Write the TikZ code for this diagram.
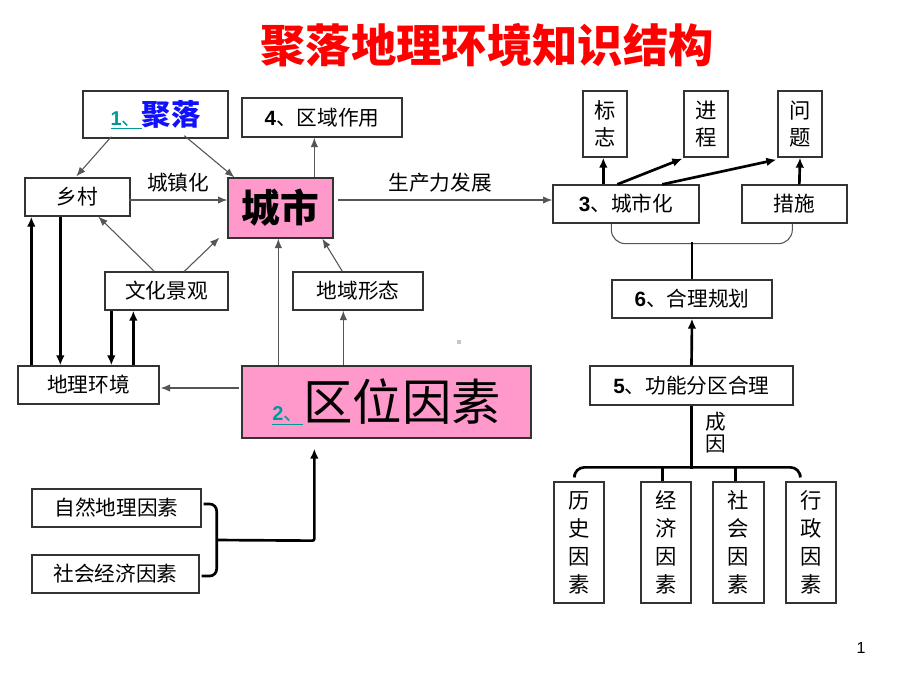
\documentclass[tikz,border=0pt]{standalone}
\usepackage{fontspec}
\setmainfont{Noto Sans CJK SC}
\newfontfamily\lat{Liberation Sans}
\usetikzlibrary{arrows.meta,calc}
\newdimen\pxu \pxu=0.75pt
\definecolor{boxgray}{HTML}{333333}
\definecolor{linegray}{HTML}{555555}
\definecolor{pinkf}{HTML}{FF99CC}
\definecolor{tealc}{HTML}{009999}
\definecolor{bluec}{HTML}{1010FF}
\definecolor{titlered}{HTML}{FF0000}
\tikzset{
  box/.style={draw=boxgray, line width=1pt, rectangle, inner sep=0pt, font=\fontsize{15.5}{18}\selectfont},
  vbox/.style={box, align=center, font=\fontsize{16}{21}\selectfont},
  thinarr/.style={draw=linegray, line width=0.8pt, -{Latex[length=7pt,width=5.5pt]}},
  thickarr/.style={draw=black, line width=2pt, -{Latex[length=7.5pt,width=6.5pt]}},
  thickline/.style={draw=black, line width=2pt},
  lbl/.style={inner sep=0pt, font=\fontsize{15.5}{18}\selectfont}
}
\begin{document}
\begin{tikzpicture}[x=0.75pt,y=-0.75pt]
\useasboundingbox (0,0) rectangle (920,690);
\fill[white] (0,0) rectangle (920,690);

% title
\node[inner sep=0pt, text=titlered, font=\fontsize{34}{36}\selectfont\bfseries] (title) at (487,45) {聚落地理环境知识结构};

% left part
\node[box, minimum width=145\pxu, minimum height=47\pxu] (p1) at (155.5,114.5)
  {{\color{tealc}\fontsize{15}{18}\selectfont\underline{{\lat\bfseries 1}、}}{\color{bluec}\fontsize{22}{24}\selectfont\bfseries 聚落}};
\node[box, minimum width=160\pxu, minimum height=39\pxu] (p4) at (322,117.5) {{\lat\bfseries 4}、区域作用};
\node[box, minimum width=105\pxu, minimum height=38\pxu] (village) at (77.5,197) {乡村};
\node[box, fill=pinkf, minimum width=105\pxu, minimum height=60\pxu, font=\fontsize{29}{30}\selectfont\bfseries] (city) at (280.5,208) {城市};
\node[box, minimum width=123\pxu, minimum height=38\pxu] (culture) at (166.5,291) {文化景观};
\node[box, minimum width=130\pxu, minimum height=38\pxu] (form) at (358,291) {地域形态};
\node[box, minimum width=141\pxu, minimum height=38\pxu] (env) at (88.5,385) {地理环境};
\node[box, fill=pinkf, minimum width=289\pxu, minimum height=72\pxu] (loc) at (386.5,402)
  {{\color{tealc}\fontsize{15}{18}\selectfont\underline{{\lat\bfseries 2}、}}{\fontsize{37}{40}\selectfont 区位因素}};
\node[box, minimum width=169\pxu, minimum height=38\pxu] (nat) at (116.5,508) {自然地理因素};
\node[box, minimum width=167\pxu, minimum height=38\pxu] (soc) at (115.5,574) {社会经济因素};

\node[lbl] (lz) at (178,183) {城镇化};
\node[lbl] (lp) at (440,183) {生产力发展};

% right part
\node[vbox, minimum width=44\pxu, minimum height=66\pxu, font=\fontsize{16}{20.25}\selectfont] (sign) at (605,124) {标\\志};
\node[vbox, minimum width=44\pxu, minimum height=66\pxu, font=\fontsize{16}{20.25}\selectfont] (proc) at (706,124) {进\\程};
\node[vbox, minimum width=44\pxu, minimum height=66\pxu, font=\fontsize{16}{20.25}\selectfont] (prob) at (800,124) {问\\题};
\node[box, minimum width=146\pxu, minimum height=38\pxu] (urb) at (626,204) {{\lat\bfseries 3}、城市化};
\node[box, minimum width=105\pxu, minimum height=38\pxu] (meas) at (794.5,204) {措施};
\node[box, minimum width=160\pxu, minimum height=38\pxu] (plan) at (692,299) {{\lat\bfseries 6}、合理规划};
\node[box, minimum width=203\pxu, minimum height=39\pxu] (func) at (691.5,385.5) {{\lat\bfseries 5}、功能分区合理};
\node[lbl, align=center, font=\fontsize{15.5}{16.5}\selectfont] (cause) at (716,433) {成\\因};
\node[vbox, minimum width=50\pxu, minimum height=121\pxu] (hist) at (579,542.5) {历\\史\\因\\素};
\node[vbox, minimum width=50\pxu, minimum height=121\pxu] (econ) at (666,542.5) {经\\济\\因\\素};
\node[vbox, minimum width=51\pxu, minimum height=121\pxu] (soc2) at (738.5,542.5) {社\\会\\因\\素};
\node[vbox, minimum width=50\pxu, minimum height=121\pxu] (admin) at (811,542.5) {行\\政\\因\\素};

\node[inner sep=0pt, font=\lat\fontsize{12}{14}\selectfont] (pg) at (861,648) {1};
\fill[gray!45] (457,340) rectangle (461,344);

% thin connectors, left
\draw[thinarr] ($(p1.south west)+(29,-2)$) -- ($(village.north west)+(52,-1)$);
\draw[thinarr] ($(p1.south west)+(102,-3)$) -- ($(city.north west)+(7,0)$);
\draw[thinarr] ($(city.north west)+(87,0)$) -- ($(p4.south west)+(73,0)$);
\draw[thinarr] ($(village.east)+(-2,3)$) -- ($(city.west)+(0,-8)$);
\draw[thinarr] ($(city.east)+(4,-8)$) -- ($(urb.west)+(0,-4)$);
\draw[thinarr] ($(culture.north west)+(50,0)$) -- ($(village.south west)+(74,0)$);
\draw[thinarr] ($(culture.north west)+(80,0)$) -- ($(city.south west)+(-8,-1)$);
\draw[thinarr] ($(form.north west)+(50,0)$) -- ($(city.south west)+(95,0)$);
\draw[thinarr] ($(loc.north west)+(37,0)$) -- ($(city.south west)+(51,0)$);
\draw[thinarr] ($(loc.north west)+(102,0)$) -- ($(form.south west)+(51,0)$);
\draw[thinarr] ($(loc.west)+(-2,-14)$) -- ($(env.east)+(1,3)$);

% thick connectors, left
\draw[thickarr] ($(env.north west)+(14,0)$) -- ($(village.south west)+(7,0)$);
\draw[thickarr] ($(village.south west)+(36,0)$) -- ($(env.north west)+(43,0)$);
\draw[thickarr] ($(culture.south west)+(7,0)$) -- ($(env.north west)+(94,0)$);
\draw[thickarr] ($(env.north west)+(116,0)$) -- ($(culture.south west)+(29,0)$);

% left brace
\coordinate (ba) at ($(nat.east)+(2,-4)$);
\coordinate (bb) at ($(soc.east)+(2,2)$);
\coordinate (bm) at ($(nat.east)+(15,32)$);
\draw[thickline, rounded corners=7\pxu] (ba) -- ($(ba)+(13,0)$) -- ($(bb)+(15,0)$) -- (bb);
\draw[thickarr, rounded corners=2\pxu] (bm) -- ($(loc.south west)+(73,102)$) -- ($(loc.south west)+(73,10)$);

% thick connectors, right top
\draw[thickarr] ($(urb.north west)+(51,0)$) -- ($(sign.south west)+(21,0)$);
\draw[thickarr] ($(urb.north west)+(65,0)$) -- ($(proc.south west)+(-1,1)$);
\draw[thickarr] ($(urb.north west)+(110,0)$) -- ($(prob.south west)+(-1,2)$);
\draw[thickarr] ($(meas.north west)+(58,0)$) -- (prob.south);

% brace under urb / meas
\coordinate (ra) at ($(urb.south west)+(59,0)$);
\coordinate (rb) at ($(meas.south west)+(51,0)$);
\draw[draw=linegray, line width=0.8pt, rounded corners=14\pxu] (ra) -- ($(ra)+(0,20)$) -- ($(rb)+(0,20)$) -- (rb);
\draw[thickline] ($(plan.north)+(0,-37)$) -- (plan.north);
\draw[thickarr] (func.north) -- (plan.south);

% bottom brace
\coordinate (qa) at ($(hist.north west)+(21,-7)$);
\coordinate (qb) at ($(admin.north west)+(15,-7)$);
\draw[thickline] (func.south) -- ($(func.south)+(0,63)$);
\draw[thickline, rounded corners=10\pxu] (qa) -- ($(qa)+(0,-7)$) -- ($(qb)+(0,-7)$) -- (qb);
\draw[thickline] ($(econ.north west)+(22,0)$) -- ($(econ.north west)+(22,-15)$);
\draw[thickline] ($(soc2.north west)+(23,0)$) -- ($(soc2.north west)+(23,-15)$);
\end{tikzpicture}
\end{document}
